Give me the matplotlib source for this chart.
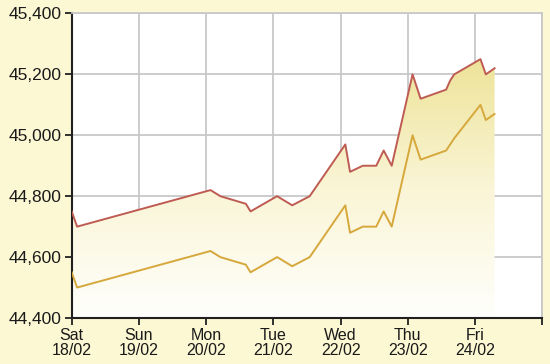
import numpy as np
import matplotlib
matplotlib.use("Agg")
import matplotlib.pyplot as plt
from matplotlib.colors import LinearSegmentedColormap

# ---------------------------------------
# Data (x in days from Sat 18/02 00:00)
# ---------------------------------------
days = [0.0, 0.08, 2.065, 2.21, 2.59, 2.66, 3.055, 3.28, 3.54, 4.07, 4.14, 4.33,
        4.53, 4.64, 4.76, 5.07, 5.19, 5.57, 5.63, 5.69, 6.08, 6.16, 6.29]
sell = [44750, 44700, 44820, 44800, 44775, 44750, 44800, 44770, 44800, 44970, 44880, 44900,
        44900, 44950, 44900, 45200, 45120, 45150, 45180, 45200, 45250, 45200, 45220]
buy = [44550, 44500, 44620, 44600, 44575, 44550, 44600, 44570, 44600, 44770, 44680, 44700,
       44700, 44750, 44700, 45000, 44920, 44950, 44970, 44990, 45100, 45050, 45070]

day_labels = ["Sat\n18/02", "Sun\n19/02", "Mon\n20/02", "Tue\n21/02",
              "Wed\n22/02", "Thu\n23/02", "Fri\n24/02", ""]
y_ticks = [44400, 44600, 44800, 45000, 45200, 45400]

# ---------------------------------------
# Figure
# ---------------------------------------
bg = "#FCF8D3"
plt.rcParams["font.family"] = ["Liberation Sans", "DejaVu Sans"]

fig = plt.figure(figsize=(5.5, 3.64), dpi=100, facecolor=bg)
ax = fig.add_axes([0.1304, 0.1264, 0.8556, 0.8366])
ax.set_facecolor("white")

ymin, ymax = 44400, 45400
ax.set_xlim(0, 7)
ax.set_ylim(ymin, ymax)

# gradient fill under the upper line
poly = ax.fill_between(days, sell, ymin, color="none", lw=0)
cmap = LinearSegmentedColormap.from_list("g", ["#FFFFFC", "#FAF5D6", "#EEE399"])
grad = np.linspace(0, 1, 256).reshape(-1, 1)
im = ax.imshow(grad, cmap=cmap, aspect="auto", origin="lower",
               extent=[0, 7, ymin, max(sell)], zorder=1)
path = poly.get_paths()[0]
im.set_clip_path(path, transform=ax.transData)

ax.plot(days, sell, color="#BE5B52", lw=1.4, zorder=3)
ax.plot(days, buy, color="#D6A83C", lw=1.4, zorder=3)

# ---------------------------------------
# Axes styling
# ---------------------------------------
ax.set_xticks(range(8))
ax.set_xticklabels(day_labels, fontsize=11.5, linespacing=1.0)
ax.set_yticks(y_ticks)
ax.set_yticklabels([f"{v:,}" for v in y_ticks], fontsize=12.5)

ax.grid(True, color="#C8C8C8", lw=1.3, zorder=0)
ax.set_axisbelow(True)
for side in ["top", "right"]:
    ax.spines[side].set_color("#C8C8C8")
    ax.spines[side].set_linewidth(1.3)
for side in ["left", "bottom"]:
    ax.spines[side].set_color("#202020")
    ax.spines[side].set_linewidth(1.5)
ax.tick_params(direction="out", length=5, width=1.3, color="#202020",
               labelcolor="#1a1a1a", pad=2)

fig.savefig("out.png", dpi=100, facecolor=bg)
